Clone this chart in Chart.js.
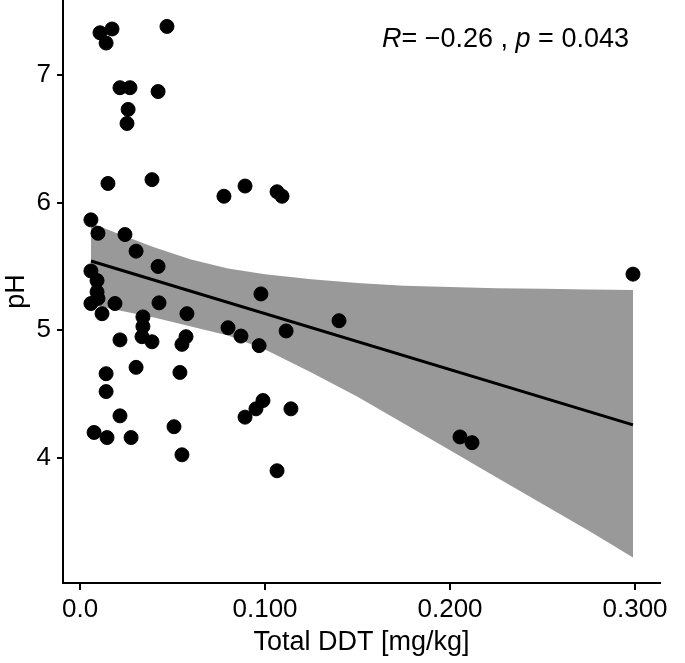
<!DOCTYPE html>
<html>
<head>
<meta charset="utf-8">
<script src="https://cdn.jsdelivr.net/npm/chart.js@4.4.0/dist/chart.umd.min.js"></script>
<style>
  html, body { margin: 0; padding: 0; background: #fff; }
  #wrap { width: 685px; height: 663px; }
</style>
</head>
<body>
<div id="wrap"><canvas id="myChart" width="685" height="663"></canvas></div>
<script>
// datos: Total DDT [mg/kg] vs pH
const ddt = [0.0108, 0.0141, 0.0173, 0.047, 0.0216, 0.027, 0.0422, 0.026, 0.0254, 0.0151,
  0.0389, 0.0059, 0.0097, 0.0243, 0.0303, 0.0422, 0.0059, 0.0092, 0.0092, 0.0097,
  0.0059, 0.0189, 0.0427, 0.0119, 0.0578, 0.034, 0.034, 0.0335, 0.0389, 0.0216,
  0.0573, 0.0551, 0.0303, 0.0141, 0.054, 0.0141, 0.0216, 0.0508, 0.0076, 0.0146,
  0.0276, 0.0551, 0.0778, 0.0892, 0.1065, 0.1092, 0.0978, 0.14, 0.08, 0.087,
  0.0968, 0.1114, 0.0989, 0.0951, 0.0892, 0.114, 0.1065, 0.2989, 0.2054, 0.2119]
const ph = [7.33, 7.25, 7.36, 7.38, 6.90, 6.90, 6.87, 6.73, 6.62, 6.15,
  6.18, 5.865, 5.76, 5.75, 5.62, 5.50, 5.465, 5.39, 5.30, 5.25,
  5.21, 5.21, 5.215, 5.13, 5.13, 5.105, 5.03, 4.95, 4.91, 4.925,
  4.95, 4.89, 4.71, 4.66, 4.67, 4.52, 4.33, 4.245, 4.20, 4.16,
  4.16, 4.025, 6.05, 6.13, 6.085, 6.05, 5.285, 5.075, 5.02, 4.955,
  4.88, 4.995, 4.45, 4.385, 4.32, 4.385, 3.90, 5.44, 4.165, 4.12]

// recta de regresion y banda de confianza
const fitX = [0.0059, 0.2989]
const fitY = [5.543, 4.259]
const bandX = [0.0059, 0.02, 0.04, 0.06, 0.08, 0.1, 0.125, 0.15, 0.175, 0.2, 0.225, 0.25, 0.275, 0.2989]
const bandUpper = [5.84, 5.76, 5.65, 5.555, 5.485, 5.44, 5.40, 5.37, 5.35, 5.34, 5.33, 5.325, 5.32, 5.315]
const bandLower = [5.20, 5.16, 5.10, 5.03, 4.96, 4.85, 4.67, 4.48, 4.27, 4.06, 3.85, 3.64, 3.43, 3.22]

const xTicks = [0, 0.1, 0.2, 0.3]
const xTickLabels = ["0.0", "0.100", "0.200", "0.300"]
const yTicks = [4, 5, 6, 7]

const FONT = "'Liberation Sans', Arial, sans-serif"

const toXY = (xs, ys) => xs.map((x, i) => ({ x: x, y: ys[i] }))

// texto R y p arriba a la derecha
const statsLabel = {
  id: 'statsLabel',
  afterDraw(chart) {
    const ctx = chart.ctx
    const parts = [
      ["italic", "R"], ["normal", "= \u22120.26 , "], ["italic", "p"], ["normal", " = 0.043"]
    ]
    let x = 382
    const y = 47
    ctx.save()
    ctx.fillStyle = '#000'
    ctx.textBaseline = 'alphabetic'
    parts.forEach(p => {
      ctx.font = p[0] + " 27px " + FONT
      ctx.fillText(p[1], x, y)
      x += ctx.measureText(p[1]).width
    })
    ctx.restore()
  }
}

const ctx = document.getElementById('myChart').getContext('2d')
const myChart = new Chart(ctx, {
  type: 'scatter',
  data: {
    datasets: [
      {
        label: 'puntos',
        data: toXY(ddt, ph),
        backgroundColor: '#000',
        borderColor: '#000',
        pointRadius: 7,
        pointHoverRadius: 7,
        order: 0,
      },
      {
        label: 'ajuste',
        type: 'line',
        data: toXY(fitX, fitY),
        borderColor: '#000',
        borderWidth: 3,
        pointRadius: 0,
        fill: false,
        order: 1,
      },
      {
        label: 'banda sup',
        type: 'line',
        data: toXY(bandX, bandUpper),
        borderWidth: 0,
        borderColor: 'rgba(0,0,0,0)',
        backgroundColor: '#999999',
        pointRadius: 0,
        fill: '+1',
        order: 2,
      },
      {
        label: 'banda inf',
        type: 'line',
        data: toXY(bandX, bandLower),
        borderWidth: 0,
        borderColor: 'rgba(0,0,0,0)',
        pointRadius: 0,
        fill: false,
        order: 3,
      },
    ],
  },
  options: {
    responsive: false,
    animation: false,
    layout: { autoPadding: false, padding: { top: 0, right: 25, bottom: 0, left: 0 } },
    plugins: {
      legend: { display: false },
      tooltip: { enabled: false },
    },
    scales: {
      x: {
        type: 'linear',
        min: -0.0092,
        max: 0.3135,
        afterBuildTicks: (scale) => { scale.ticks = xTicks.map(v => ({ value: v })) },
        afterFit: (scale) => { scale.height = 80; scale.paddingLeft = 0; scale.paddingRight = 0 },
        ticks: {
          color: '#000',
          font: { family: FONT, size: 26 },
          padding: 4,
          callback: (v) => xTickLabels[xTicks.indexOf(v)],
        },
        grid: { display: true, drawOnChartArea: false, drawTicks: true, tickLength: 7, color: '#000', lineWidth: 2 },
        border: { display: true, color: '#000', width: 2 },
        title: { display: true, text: 'Total DDT [mg/kg]', color: '#000', font: { family: FONT, size: 27 }, padding: { top: 6 } },
      },
      y: {
        type: 'linear',
        min: 3.021,
        max: 7.587,
        afterBuildTicks: (scale) => { scale.ticks = yTicks.map(v => ({ value: v })) },
        afterFit: (scale) => { scale.width = 63; scale.paddingTop = 0; scale.paddingBottom = 0 },
        ticks: {
          color: '#000',
          font: { family: FONT, size: 26 },
          padding: 6,
        },
        grid: { display: true, drawOnChartArea: false, drawTicks: true, tickLength: 6, color: '#000', lineWidth: 2 },
        border: { display: true, color: '#000', width: 2 },
        title: { display: true, text: 'pH', color: '#000', font: { family: FONT, size: 27 }, padding: 0 },
      },
    },
  },
  plugins: [statsLabel],
})
</script>
</body>
</html>
